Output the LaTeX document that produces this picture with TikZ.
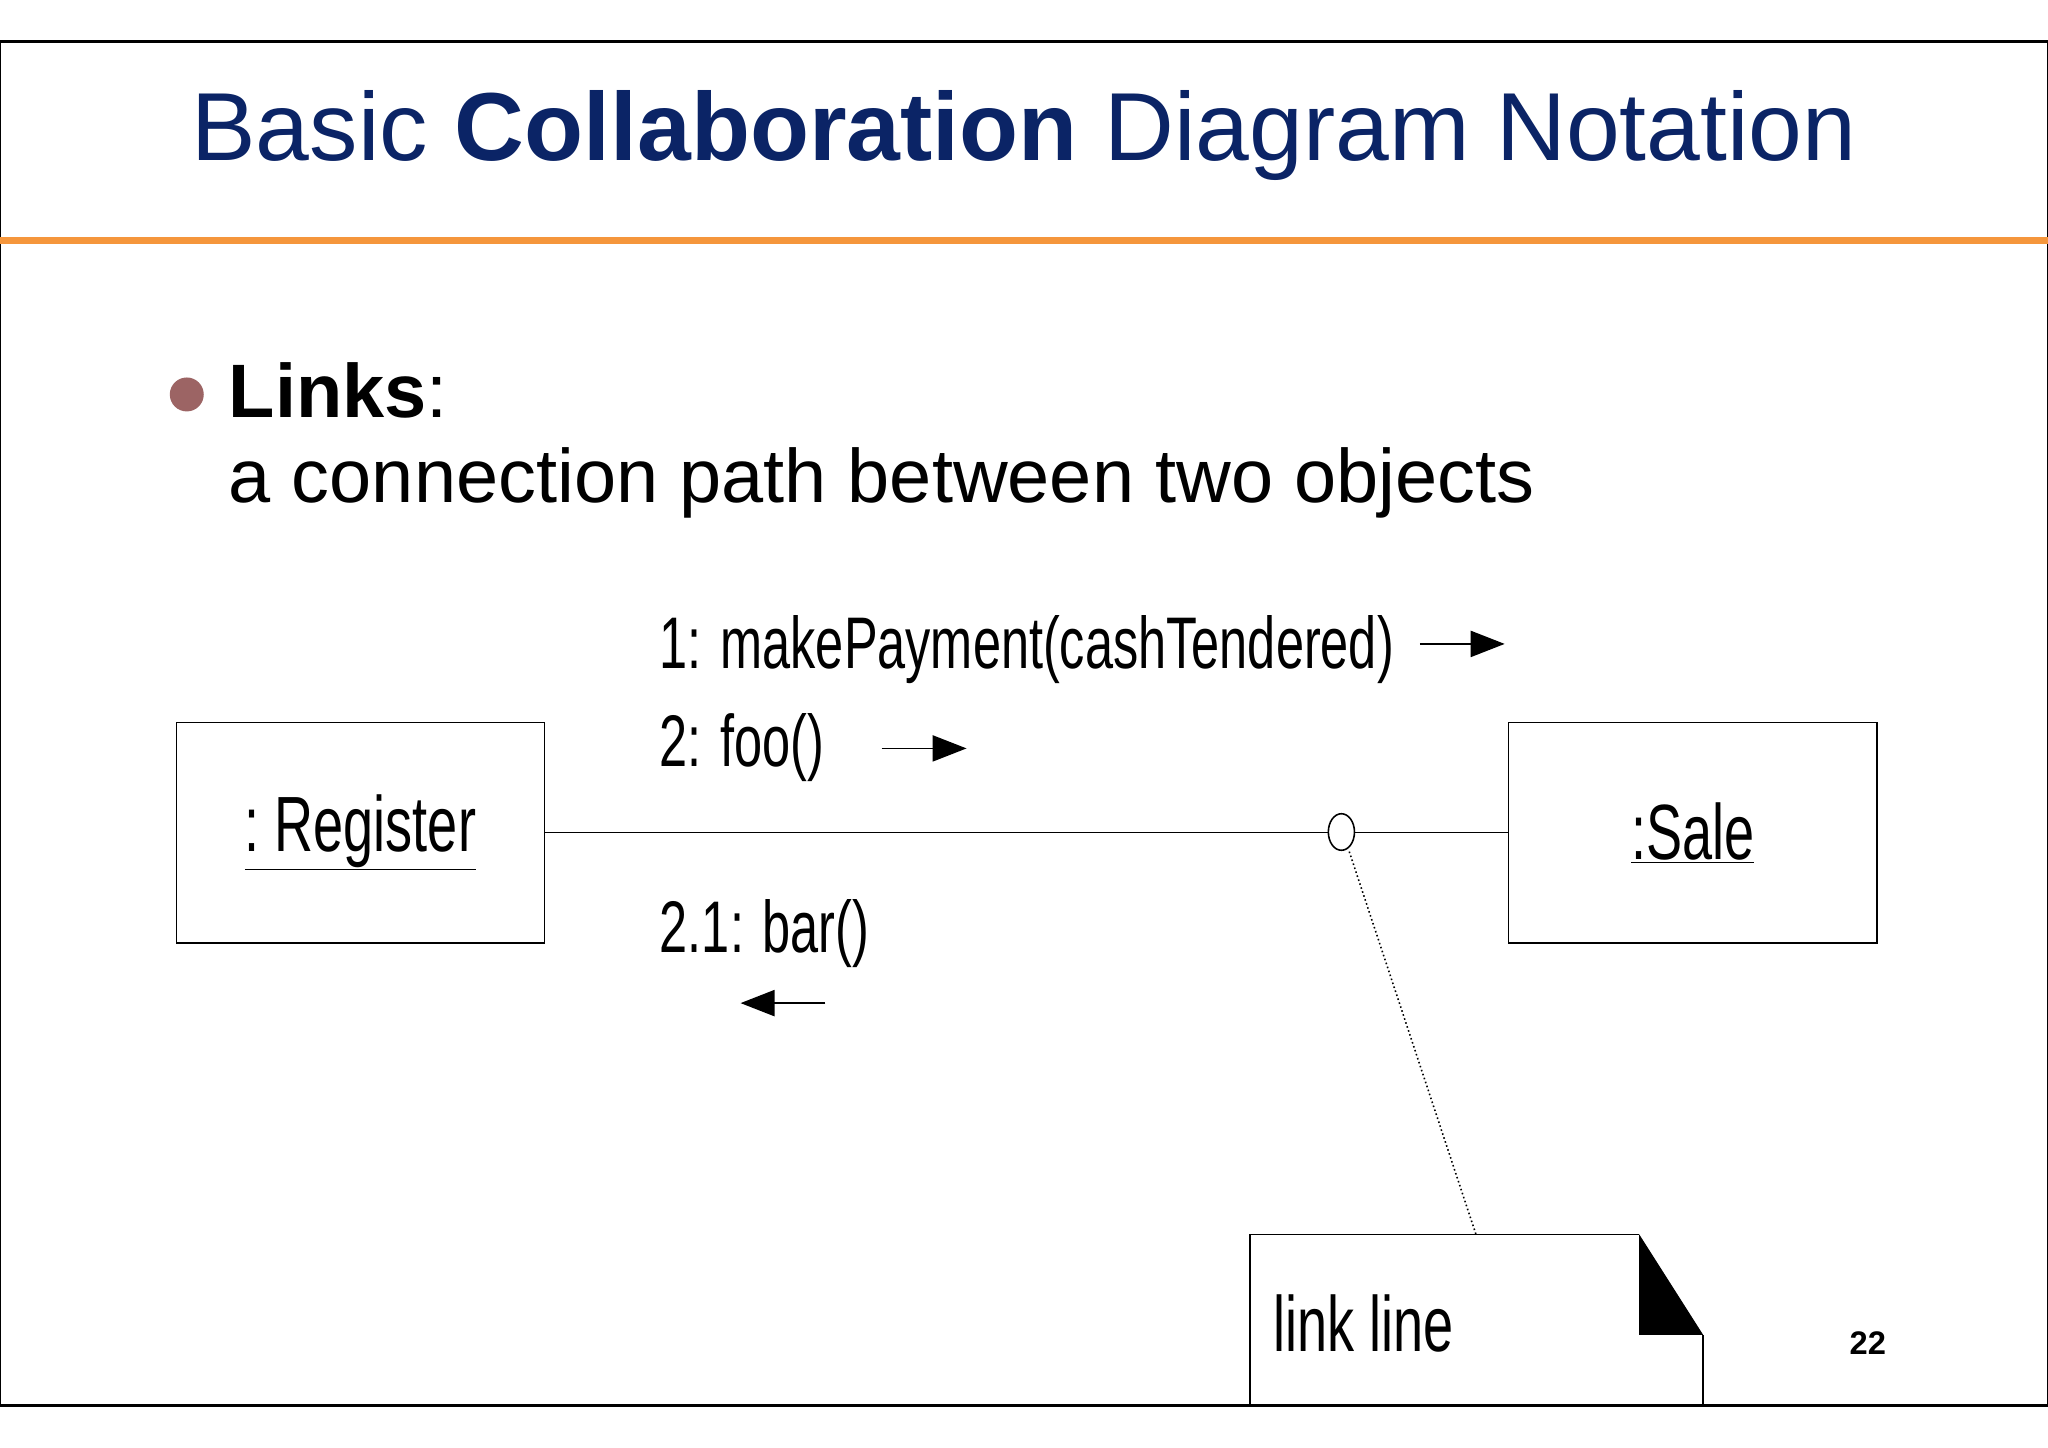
\documentclass[tikz,border=0pt]{standalone}
\usepackage{fontspec}
\setmainfont{Liberation Sans}
\newfontfamily\narrow[FakeStretch=0.69]{Liberation Sans}
\usetikzlibrary{arrows.meta}
\definecolor{navy}{HTML}{0B2466}
\definecolor{orng}{HTML}{F5963C}
\definecolor{bul}{HTML}{9C6464}
\tikzset{obj/.style={draw,line width=1.2pt,minimum width=282pt,minimum height=169pt,font=\narrow\fontsize{60}{66}\selectfont},
lbl/.style={anchor=west,inner sep=0,font=\narrow\fontsize{56}{60}\selectfont},
msg/.style={line width=1.3pt,-{Triangle[length=26pt,width=20pt]}}}
\begin{document}
\begin{tikzpicture}[x=1pt,y=-1pt]
\useasboundingbox (0,0) rectangle (1568,1108);
\fill[white] (0,0) rectangle (1568,1108);
\draw[line width=2pt] (0,32) rectangle (1568,1076);
\draw[orng,line width=5pt] (0,184) -- (1568,184);
\node[navy,font=\fontsize{74}{80}\selectfont] (title) at (784,104) {Basic \textbf{Collaboration} Diagram Notation};
\fill[bul] (143,302) circle (13);
\node[anchor=west,inner sep=0,font=\fontsize{58}{62}\selectfont] (links) at (175,299) {\textbf{Links}:};
\node[anchor=west,inner sep=0,font=\fontsize{58}{62}\selectfont] (desc) at (175,370) {a connection path between two objects};
\node[obj] (reg) at (276,637.5) {\underline{:\hspace{-4pt} Register}};
\node[obj] (sale) at (1296,637.5) {\underline{:Sale}};
\draw[line width=1.2pt] (reg.east) -- (sale.west);
\draw[line width=1.2pt,fill=white] (1027,637) ellipse (10 and 14);
\coordinate (lk) at (1033,652);
\node[lbl] (m1) at (505,497) {1: makePayment(cashTendered)};
\node[lbl] (m2) at (505,572) {2: foo()};
\node[lbl] (m3) at (505,715) {2.1: bar()};
\coordinate (a1) at (1087,493); \coordinate (b1) at (1152,493);
\coordinate (a2) at (675,573); \coordinate (b2) at (740,573);
\coordinate (a3) at (632,768); \coordinate (b3) at (567,768);
\draw[msg] (a1) -- (b1);
\draw[msg] (a2) -- (b2);
\draw[msg] (a3) -- (b3);
\draw[line width=1.2pt] (1255,945) -- (957,945) -- (957,1076) -- (1304,1076) -- (1304,1022);
\fill (1255,945) -- (1304,1022) -- (1255,1022) -- cycle;
\coordinate (nt) at (1130,945);
\draw[dotted,line width=1.2pt] (lk) -- (nt);
\node[anchor=west,inner sep=0,font=\narrow\fontsize{60}{66}\selectfont] (note) at (975,1013) {link line};
\node[font=\bfseries\fontsize{25}{28}\selectfont] (pg) at (1430,1028) {22};
\end{tikzpicture}
\end{document}
